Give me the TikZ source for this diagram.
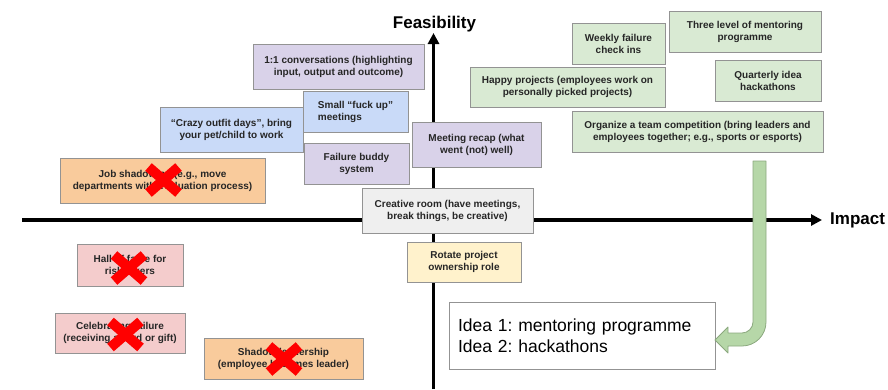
\documentclass[tikz,border=0pt]{standalone}
\usepackage{fontspec}
\setmainfont{Liberation Sans}
\usetikzlibrary{arrows.meta,calc}
\frenchspacing

\definecolor{boxedge}{HTML}{939393}
\definecolor{textcol}{HTML}{262626}
\definecolor{lilac}{HTML}{D9D2E9}
\definecolor{skyblue}{HTML}{C9DAF8}
\definecolor{peach}{HTML}{F9CB9C}
\definecolor{mint}{HTML}{D9EAD3}
\definecolor{paleGray}{HTML}{EFEFEF}
\definecolor{cream}{HTML}{FFF2CC}
\definecolor{rose}{HTML}{F4CCCC}
\definecolor{arrowfill}{HTML}{B6D7A8}
\definecolor{arrowedge}{HTML}{8BA87E}

\tikzset{
  idea/.style={draw=boxedge, line width=0.8pt, text=textcol, align=center,
    inner sep=0pt, font=\bfseries\fontsize{10}{12}\selectfont},
  axisline/.style={line width=3.2pt, -{Triangle[length=11pt,width=11pt]}},
  axislabel/.style={font=\bfseries\fontsize{17}{20}\selectfont},
  redcross/.style={draw=red, line width=10pt},
  bigarrow/.style={fill=arrowfill, draw=arrowedge, line width=0.8pt, line join=round}
}

\begin{document}
\begin{tikzpicture}[x=1pt,y=-1pt]
\useasboundingbox (0,0) rectangle (888,389);

% axes
\coordinate (xstart) at (22,220);
\coordinate (xend) at (822,220);
\coordinate (ystart) at (433.5,389);
\coordinate (yend) at (433.5,33);
\draw[axisline] (xstart) -- (xend);
\draw[axisline] (ystart) -- (yend);
\node[axislabel, anchor=base, inner sep=0pt] (feas) at (434.5,28) {Feasibility};
\node[axislabel, anchor=west, inner sep=0pt] (impact) at (830,220) {Impact};

% idea boxes
\node[idea, fill=lilac, minimum width=171pt, minimum height=45pt] (conv) at (338.5,66.5)
  {1:1 conversations (highlighting\\input, output and outcome)};
\node[idea, fill=skyblue, minimum width=105pt, minimum height=41pt, align=left] (fuckup) at (355.5,111.5)
  {Small “fuck up”\\meetings};
\node[idea, fill=skyblue, minimum width=143pt, minimum height=45pt] (outfit) at (231.5,129.5)
  {“Crazy outfit days”, bring\\your pet/child to work};
\node[idea, fill=lilac, minimum width=105pt, minimum height=41pt] (buddy) at (356.5,163.5)
  {Failure buddy\\system};
\node[idea, fill=lilac, minimum width=129pt, minimum height=45pt] (recap) at (476.5,144.5)
  {Meeting recap (what\\went (not) well)};
\node[idea, fill=peach, minimum width=205pt, minimum height=45pt] (jobshadow) at (162.5,180.5)
  {Job shadowing (e.g., move\\departments with evaluation process)};
\node[idea, fill=paleGray, minimum width=171pt, minimum height=45pt] (creative) at (447.5,210.5)
  {Creative room (have meetings,\\break things, be creative)};
\node[idea, fill=cream, minimum width=114pt, minimum height=40pt] (rotate) at (464,262)
  {Rotate project\\ownership role};
\node[idea, fill=mint, minimum width=93pt, minimum height=41pt] (weekly) at (618.5,43.5)
  {Weekly failure\\check ins};
\node[idea, fill=mint, minimum width=152pt, minimum height=41pt] (mentor) at (745,31.5)
  {Three level of mentoring\\programme};
\node[idea, fill=mint, minimum width=195pt, minimum height=40pt] (happy) at (567.5,87)
  {Happy projects (employees work on\\personally picked projects)};
\node[idea, fill=mint, minimum width=106pt, minimum height=41pt] (hack) at (768,80.5)
  {Quarterly idea\\hackathons};
\node[idea, fill=mint, minimum width=251pt, minimum height=41pt] (compete) at (697.5,131.5)
  {Organize a team competition (bring leaders and\\employees together; e.g., sports or esports)};
\node[idea, fill=rose, minimum width=106pt, minimum height=42pt] (hall) at (130,265)
  {Hall of fame for\\risk takers};
\node[idea, fill=rose, minimum width=130pt, minimum height=40pt] (celebrate) at (120,333)
  {Celebrating failure\\(receiving award or gift)};
\node[idea, fill=peach, minimum width=159pt, minimum height=41pt] (shadowlead) at (283.5,358.5)
  {Shadow leadership\\(employee becomes leader)};

% summary box
\node[draw=boxedge, line width=0.8pt, fill=white, align=left, inner xsep=9pt, inner ysep=0pt,
  text width=248pt, minimum height=67pt, font=\fontsize{17.5}{21}\selectfont] (summary) at (582,335.5)
  {Idea 1: mentoring programme\\Idea 2: hackathons};

% rejected ideas
\coordinate (xjob) at (163.5,180);
\coordinate (xhall) at (129,268);
\coordinate (xcele) at (125.5,334.5);
\coordinate (xlead) at (284,359);
\foreach \c in {xjob,xhall,xcele,xlead}{
  \draw[redcross] (\c) ++(-15,-13) -- ++(30,26);
  \draw[redcross] (\c) ++(15,-13) -- ++(-30,26);
}

% bent arrow from the shortlist to the summary
\coordinate (arrowtop) at (759.5,161);
\draw[bigarrow] (753,161) -- (766,161) -- (766,322)
  .. controls (766,335.3) and (755.3,346) .. (742,346)
  -- (728,346) -- (728,353) -- (715,340) -- (728,327) -- (728,333) -- (742,333)
  .. controls (748,333) and (753,328) .. (753,322) -- cycle;
\end{tikzpicture}
\end{document}
